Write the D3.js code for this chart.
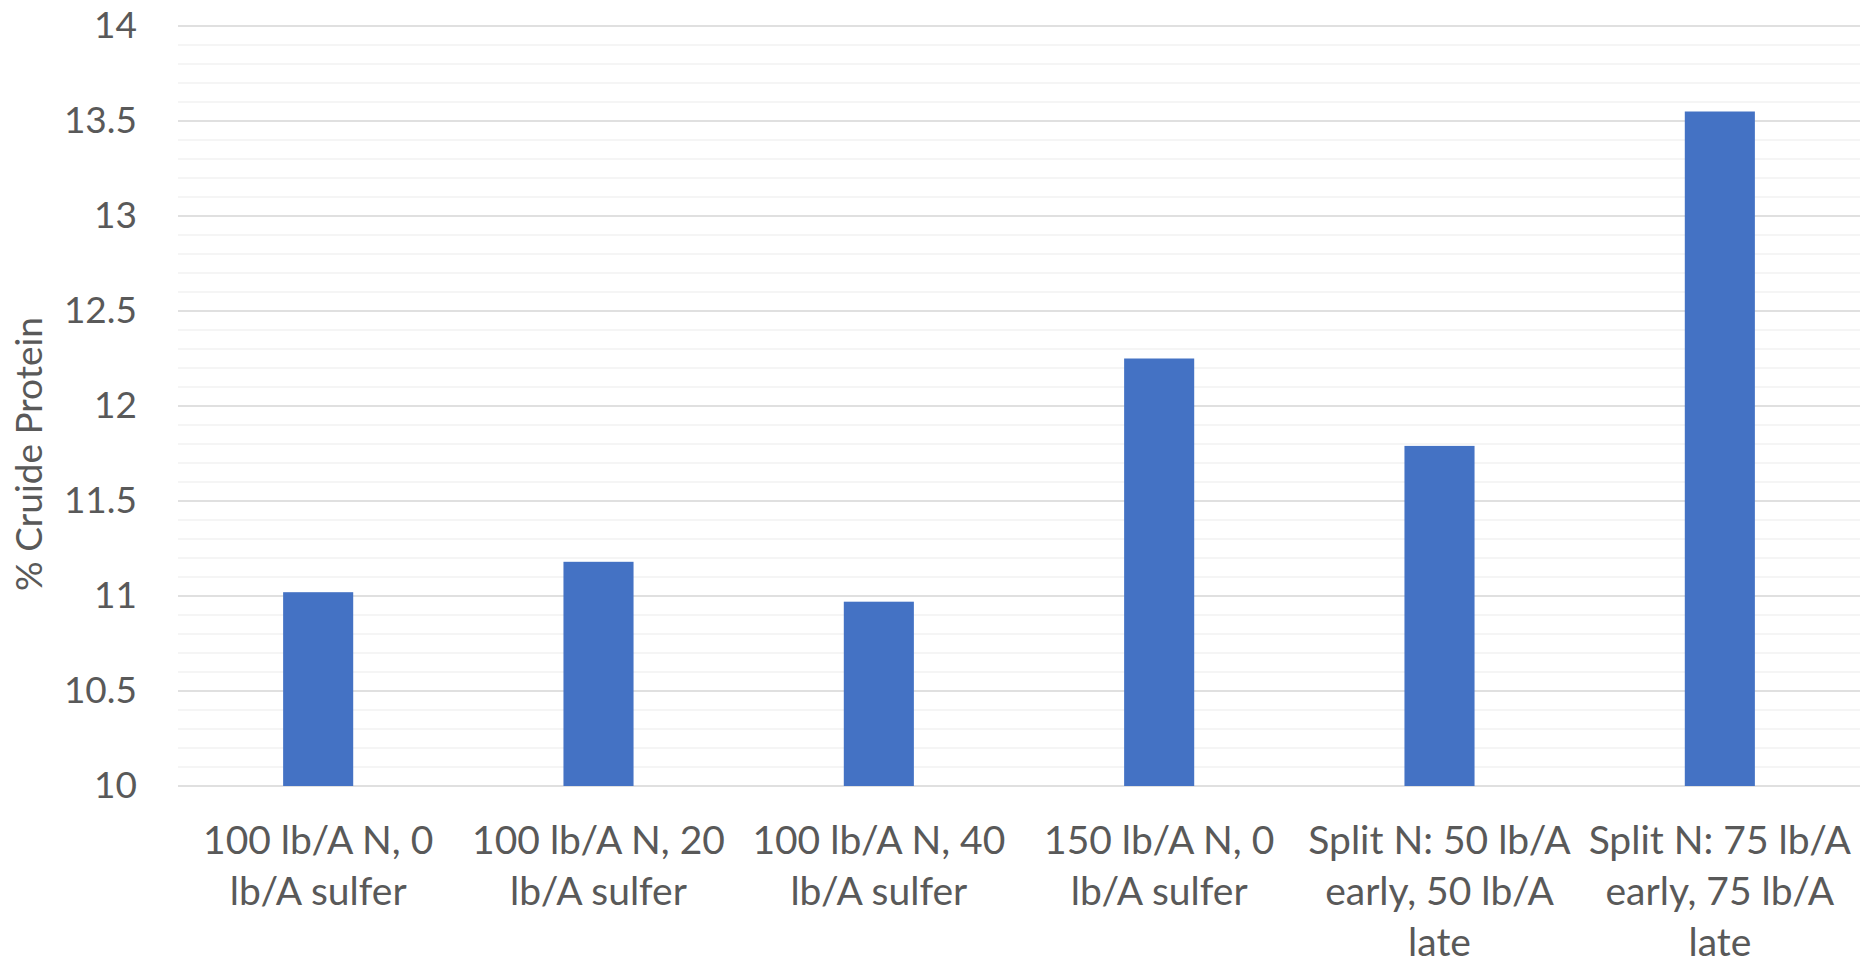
<!DOCTYPE html>
<html>
<head>
<meta charset="utf-8">
<script src="https://cdn.jsdelivr.net/npm/d3@7"></script>
<style>
  body { margin: 0; background: #fff; }
  text { font-family: Lato, "Open Sans", sans-serif; fill: #595959; }
</style>
</head>
<body>
<div id="chart"></div>
<script>
// data
var categories = [
  "100 lb/A N, 0 lb/A sulfer",
  "100 lb/A N, 20 lb/A sulfer",
  "100 lb/A N, 40 lb/A sulfer",
  "150 lb/A N, 0 lb/A sulfer",
  "Split N: 50 lb/A early, 50 lb/A late",
  "Split N: 75 lb/A early, 75 lb/A late"
];
var protein = [11.02, 11.18, 10.97, 12.25, 11.79, 13.55];
var yTicks = [10, 10.5, 11, 11.5, 12, 12.5, 13, 13.5, 14];
var yTitle = "% Cruide Protein";

var width = 1862, height = 960;
var margin = {top: 26, right: 2, bottom: 174, left: 178};

var svg = d3.select("#chart").append("svg")
            .attr("width", width)
            .attr("height", height);

var x = d3.scaleBand()
          .domain(categories)
          .range([margin.left, width - margin.right])
          .paddingInner(0.75)
          .paddingOuter(0.375);

var y = d3.scaleLinear()
          .domain([10, 14])
          .range([height - margin.bottom, margin.top]);

// minor gridlines every 0.1
var minor = d3.range(0, 41).map(function(i) { return 10 + i / 10; });
svg.selectAll("line.minor")
  .data(minor)
  .enter()
  .append("line")
  .attr("class", "minor")
  .attr("x1", margin.left)
  .attr("x2", width - margin.right)
  .attr("y1", function(d) { return y(d); })
  .attr("y2", function(d) { return y(d); })
  .attr("stroke", "#F2F2F2")
  .attr("stroke-width", 1.5);

// major gridlines
svg.selectAll("line.major")
  .data(yTicks)
  .enter()
  .append("line")
  .attr("class", "major")
  .attr("x1", margin.left)
  .attr("x2", width - margin.right)
  .attr("y1", function(d) { return y(d); })
  .attr("y2", function(d) { return y(d); })
  .attr("stroke", "#D9D9D9")
  .attr("stroke-width", 1.5);

// y axis labels
var yAxis = d3.axisLeft(y)
              .tickValues(yTicks)
              .tickSize(0)
              .tickPadding(41)
              .tickFormat(function(d) { return d; });

svg.append("g")
  .attr("transform", "translate(" + margin.left + ",0)")
  .call(yAxis)
  .call(function(g) { g.select(".domain").remove(); })
  .selectAll("text")
  .style("font-size", "37px")
  .attr("fill", "#595959");

// bars
svg.selectAll("rect.bar")
  .data(protein)
  .enter()
  .append("rect")
  .attr("class", "bar")
  .attr("fill", "#4472C4")
  .attr("x", function(d, i) { return x(categories[i]); })
  .attr("width", x.bandwidth())
  .attr("y", function(d) { return y(d); })
  .attr("height", function(d) { return y(10) - y(d); });

// x labels, wrapped like Excel does
function wrapLines(label, maxWidth, probe) {
  var words = label.split(" ");
  var lines = [];
  var line = words[0];
  for (var i = 1; i < words.length; i++) {
    probe.text(line + " " + words[i]);
    if (probe.node().getComputedTextLength() > maxWidth) {
      lines.push(line);
      line = words[i];
    } else {
      line = line + " " + words[i];
    }
  }
  lines.push(line);
  return lines;
}

var probe = svg.append("text").style("font-size", "39px");
var xLabels = svg.append("g").attr("class", "x-labels");
categories.forEach(function(c) {
  var lines = wrapLines(c, x.step() - 6, probe);
  var t = xLabels.append("text")
                 .attr("text-anchor", "middle")
                 .style("font-size", "39px")
                 .attr("y", 854);
  lines.forEach(function(l, j) {
    t.append("tspan")
      .attr("x", x(c) + x.bandwidth() / 2)
      .attr("dy", j === 0 ? 0 : 51)
      .text(l);
  });
});
probe.remove();

// y axis title
svg.append("text")
  .attr("transform", "translate(42," + 454 + ") rotate(-90)")
  .attr("text-anchor", "middle")
  .style("font-size", "37px")
  .text(yTitle);
</script>
</body>
</html>
